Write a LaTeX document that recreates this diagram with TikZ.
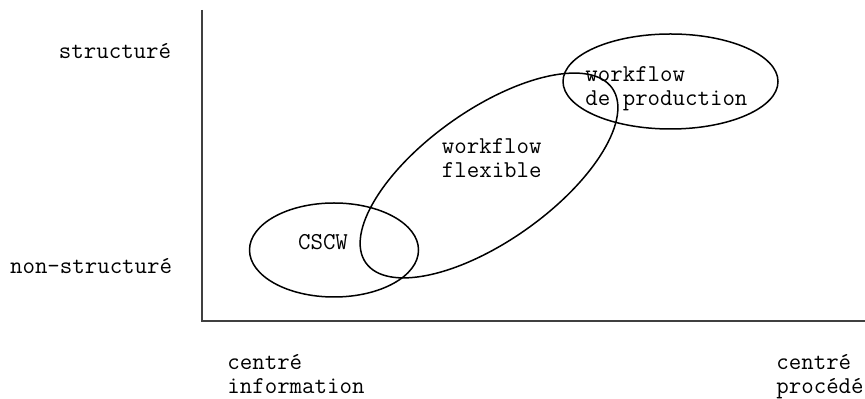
\documentclass[tikz,border=0pt]{standalone}
\usepackage{fontspec}
\usepackage{tikz}

\begin{document}
\begin{tikzpicture}[x=0.5pt,y=-0.5pt,
  every node/.style={inner sep=0pt,font=\ttfamily\fontsize{12.1}{12}\selectfont},
  zone/.style={line width=0.75pt},
  axis/.style={line width=1pt,draw=black!75}]
\useasboundingbox (0,0) rectangle (865,399);
% axes
\coordinate (top) at (202,10);
\coordinate (origin) at (202,321);
\coordinate (right) at (865,321);
\draw[axis] (top)--(origin)--(right);
% labels of the axes
\node[anchor=base east] at(171.5,58.5)(struct) {structuré};
\node[anchor=base east] at(172.5,274)(nonstruct) {non-structuré};
\node[anchor=base west,align=left] at(227,394)(info) {centré\\information};
\node[anchor=base west,align=left] at(776,394)(proc) {centré\\procédé};
% the three zones
\draw[zone] (334,250) ellipse [x radius=84.5, y radius=47];
\draw[zone,rotate around={35.35:(489,175.5)}] (489,175.5) ellipse [x radius=151, y radius=65.5];
\draw[zone] (670.5,81.5) ellipse [x radius=107.5, y radius=47.5];
\node[anchor=base] at(323,250)(cscw) {CSCW};
\node[anchor=base west,align=left] at(441.5,177.7)(flex) {workflow\\flexible};
\node[anchor=base west,align=left] at(585,105.7)(prod) {workflow\\de production};
\end{tikzpicture}
\end{document}
